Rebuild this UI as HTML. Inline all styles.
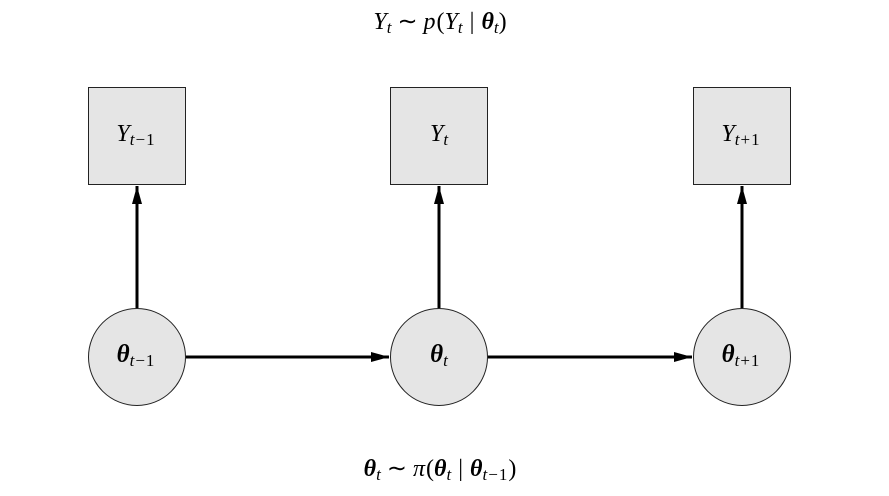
<!DOCTYPE html>
<html><head><meta charset="utf-8"><style>
html,body{margin:0;padding:0;background:#fff;}
svg{display:block;}
text{font-family:"Liberation Serif",serif;fill:#000;}
.i{font-style:italic;}
.b{font-weight:bold;font-style:italic;}
</style></head><body>
<svg width="889" height="496" viewBox="0 0 889 496" xmlns="http://www.w3.org/2000/svg">
<defs>
<marker id="a" markerWidth="18" markerHeight="10" refX="18" refY="5" orient="auto" markerUnits="userSpaceOnUse">
<path d="M0,0 L18,5 L0,10 z" fill="#000"/>
</marker>
</defs>
<g fill="#e5e5e5" stroke="#222" stroke-width="1">
<rect x="88.5" y="87.5" width="97" height="97"/>
<rect x="390.5" y="87.5" width="97" height="97"/>
<rect x="693.5" y="87.5" width="97" height="97"/>
<circle cx="137" cy="357" r="48.5"/>
<circle cx="439" cy="357" r="48.5"/>
<circle cx="742" cy="357" r="48.5"/>
</g>
<g stroke="#000" stroke-width="3" marker-end="url(#a)">
<line x1="137" y1="308" x2="137" y2="186"/>
<line x1="439" y1="308" x2="439" y2="186"/>
<line x1="742" y1="308" x2="742" y2="186"/>
<line x1="186" y1="357" x2="389" y2="357"/>
<line x1="488" y1="357" x2="692" y2="357"/>
</g>
<text x="136" y="141" text-anchor="middle" font-size="24"><tspan class="i">Y</tspan><tspan font-size="17" dy="4" letter-spacing="1"><tspan class="i">t</tspan>−1</tspan></text>
<text x="439" y="141" text-anchor="middle" font-size="24"><tspan class="i">Y</tspan><tspan font-size="17" dy="4" class="i">t</tspan></text>
<text x="741" y="141" text-anchor="middle" font-size="24"><tspan class="i">Y</tspan><tspan font-size="17" dy="4" letter-spacing="1"><tspan class="i">t</tspan>+1</tspan></text>
<text x="136" y="362" text-anchor="middle" font-size="25"><tspan class="b">θ</tspan><tspan font-size="17" dy="4" letter-spacing="1"><tspan class="i">t</tspan>−1</tspan></text>
<text x="439" y="362" text-anchor="middle" font-size="25"><tspan class="b">θ</tspan><tspan font-size="17" dy="4" class="i">t</tspan></text>
<text x="741" y="362" text-anchor="middle" font-size="25"><tspan class="b">θ</tspan><tspan font-size="17" dy="4" letter-spacing="1"><tspan class="i">t</tspan>+1</tspan></text>
<text x="440" y="29" text-anchor="middle" font-size="24"><tspan class="i">Y</tspan><tspan font-size="17" dy="4" class="i">t</tspan><tspan dy="-4" dx="6">∼</tspan><tspan class="i" dx="6">p</tspan><tspan dx="1">(</tspan><tspan class="i">Y</tspan><tspan font-size="17" dy="4" class="i">t</tspan><tspan dy="-4" dx="7">|</tspan><tspan class="b" dx="7">θ</tspan><tspan font-size="17" dy="4" class="i">t</tspan><tspan dy="-4">)</tspan></text>
<text x="440" y="476" text-anchor="middle" font-size="24"><tspan class="b">θ</tspan><tspan font-size="17" dy="4" class="i">t</tspan><tspan dy="-4" dx="6">∼</tspan><tspan class="i" dx="6">π</tspan><tspan dx="1">(</tspan><tspan class="b">θ</tspan><tspan font-size="17" dy="4" class="i">t</tspan><tspan dy="-4" dx="7">|</tspan><tspan class="b" dx="7">θ</tspan><tspan font-size="17" dy="4" letter-spacing="1"><tspan class="i">t</tspan>−1</tspan><tspan dy="-4">)</tspan></text>
</svg>
</body></html>
